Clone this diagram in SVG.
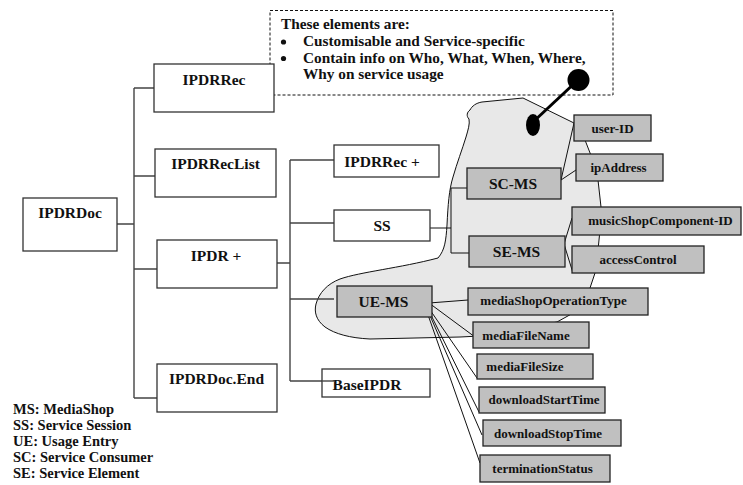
<svg xmlns="http://www.w3.org/2000/svg" width="743" height="485" viewBox="0 0 743 485">
<style>
text{font-family:"Liberation Serif","Times New Roman",serif;font-weight:bold;fill:#111}
.b{fill:#fff;stroke:#333;stroke-width:1.3}
.g{fill:#c0c0c0;stroke:#222;stroke-width:1.3}
.t{font-size:15.5px;text-anchor:middle}
.s{font-size:13px;text-anchor:middle}
.c{fill:none;stroke:#444;stroke-width:1.4}
.f{fill:none;stroke:#111;stroke-width:1}
.l{font-size:14.5px}
.n{font-size:15.3px}
</style>
<rect width="743" height="485" fill="#fff"/>
<g id="callout">
<rect x="270" y="10.5" width="343" height="84.5" fill="#fff" stroke="#111" stroke-width="1" stroke-dasharray="3,2"/>
<text class="n" x="281" y="29">These elements are:</text>
<circle cx="283.5" cy="42" r="2.6" fill="#111"/>
<text class="n" x="303" y="46">Customisable and Service-specific</text>
<circle cx="283.5" cy="58.5" r="2.6" fill="#111"/>
<text class="n" x="303" y="62.5">Contain info on Who, What, When, Where,</text>
<text class="n" x="303" y="79">Why on service usage</text>
</g>
<g id="blob">
<path d="M523,98 L574,123 L585,140 L592,158 L598,180 L601,207 L600,230 L598,250 L595,273 L590,288 L575,312 L557,322 L480,336 L460,337 L370,339 C350,338 335,334 325,327 C316,320 314,312 316,304 C319,293 327,284 340,279 C360,272 400,268 438,258 C445,250 446,240 447,225 C448,205 449,190 453,177 C457,163 462,150 466,137 C468,130 470,124 469,119 C466,116 467,112 470,110 C472,106 476,103 482,102 L523,98 Z" fill="#e8e8e8" stroke="#111" stroke-width="1"/>
<ellipse cx="533" cy="125" rx="7" ry="11" fill="#000"/>
<line x1="533" y1="122" x2="578" y2="80" stroke="#000" stroke-width="3"/>
<circle cx="578.5" cy="80" r="11" fill="#000"/>
</g>
<g id="connectors">
<path class="c" d="M109,224 H134 M134,88 V398 M134,88 H154 M134,176 H157 M134,269 H157 M134,398 H157"/>
<path class="c" d="M267,263 H290 M290,160 V381 M290,160 H334 M290,223 H334 M290,299 H334 M290,381 H335"/>
<path class="f" d="M430,228 H451 M451,188 V253 M451,188 H467 M451,253 H469"/>
<path class="f" d="M561,180 L574,123 M561,180 L576,170 M564,244 L572,218 M564,244 L573,273"/>
<path class="f" d="M429,303 L468,300 M429,303 L475,337 M428,307 L477,378 M428,309 L479,412 M428,311 L482,435 M427,312 L480,463"/>
</g>
<g id="IPDRDoc"><rect class="b" x="23" y="198" width="94" height="53"/><text class="t" x="70" y="218">IPDRDoc</text></g>
<g id="IPDRRec"><rect class="b" x="154" y="64" width="120" height="48"/><text class="t" x="214" y="85">IPDRRec</text></g>
<g id="IPDRRecList"><rect class="b" x="155" y="149" width="121" height="48"/><text class="t" x="215.5" y="169">IPDRRecList</text></g>
<g id="IPDRplus"><rect class="b" x="157" y="240" width="120" height="48"/><text class="t" x="216" y="261">IPDR +</text></g>
<g id="IPDRDocEnd"><rect class="b" x="157" y="364" width="120" height="48"/><text class="t" x="216.5" y="384">IPDRDoc.End</text></g>
<g id="IPDRRecPlus"><rect class="b" x="334" y="145" width="105" height="32"/><text class="t" x="382" y="167">IPDRRec +</text></g>
<g id="SS"><rect class="b" x="334" y="210" width="96" height="31"/><text class="t" x="382" y="231">SS</text></g>
<g id="BaseIPDR"><rect class="b" x="322" y="369" width="108" height="28"/><text class="t" x="367" y="390">BaseIPDR</text></g>
<path class="c" d="M322,381 H335"/>
<g id="SC-MS"><rect class="g" x="467" y="168" width="94" height="31"/><text class="t" x="513" y="188.5">SC-MS</text></g>
<g id="SE-MS"><rect class="g" x="469" y="236" width="96" height="31"/><text class="t" x="516.5" y="257">SE-MS</text></g>
<g id="UE-MS"><rect class="g" x="337" y="286" width="95" height="31"/><text class="t" x="383.5" y="307">UE-MS</text></g>
<g id="user-ID"><rect class="g" x="574" y="115" width="77" height="26"/><text class="s" x="612.5" y="132.5">user-ID</text></g>
<g id="ipAddress"><rect class="g" x="576" y="154" width="87" height="27"/><text class="s" x="618.5" y="172">ipAddress</text></g>
<g id="musicShopComponent-ID"><rect class="g" x="572" y="207" width="169" height="28"/><text class="s" x="660.5" y="225">musicShopComponent-ID</text></g>
<g id="accessControl"><rect class="g" x="572" y="246" width="132" height="27"/><text class="s" x="638" y="263.5">accessControl</text></g>
<g id="mediaShopOperationType"><rect class="g" x="468" y="288" width="180" height="27"/><text class="s" x="553.5" y="305">mediaShopOperationType</text></g>
<g id="mediaFileName"><rect class="g" x="473" y="322" width="116" height="26"/><text class="s" x="526" y="339.5">mediaFileName</text></g>
<g id="mediaFileSize"><rect class="g" x="477" y="354" width="116" height="25"/><text class="s" x="525" y="371">mediaFileSize</text></g>
<g id="downloadStartTime"><rect class="g" x="479" y="387" width="126" height="26"/><text class="s" x="544" y="404">downloadStartTime</text></g>
<g id="downloadStopTime"><rect class="g" x="483" y="420" width="138" height="26"/><text class="s" x="548" y="437.5">downloadStopTime</text></g>
<g id="terminationStatus"><rect class="g" x="480" y="455" width="130" height="27"/><text class="s" x="542.5" y="473">terminationStatus</text></g>
<g id="legend">
<text class="l" x="13" y="414">MS: MediaShop</text>
<text class="l" x="13" y="430">SS: Service Session</text>
<text class="l" x="13" y="446">UE: Usage Entry</text>
<text class="l" x="13" y="462">SC: Service Consumer</text>
<text class="l" x="13" y="478">SE: Service Element</text>
</g>
</svg>
